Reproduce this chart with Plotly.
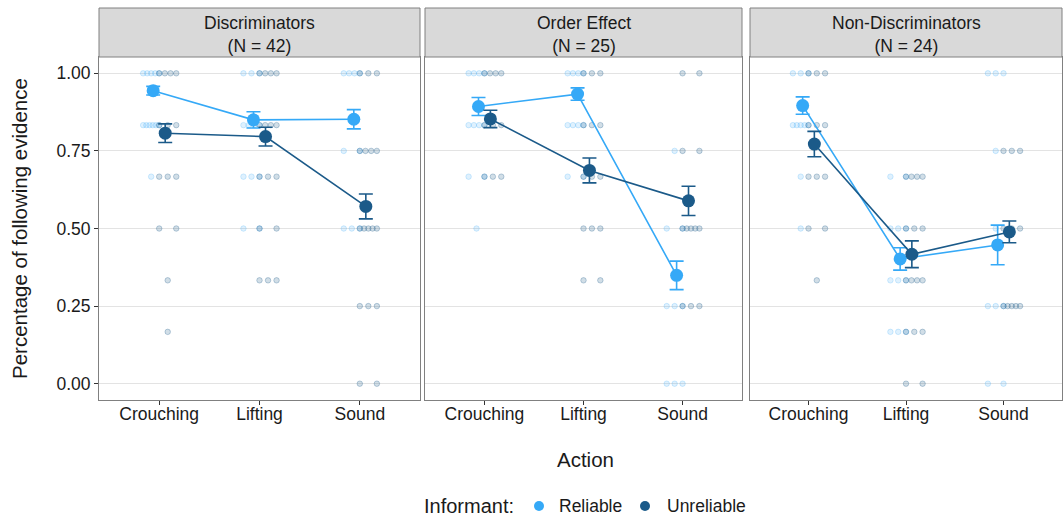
import plotly.graph_objects as go

# Categories and panels
actions = ["Crouching", "Lifting", "Sound"]
panels = ["Discriminators<br>(N = 42)", "Order Effect<br>(N = 25)", "Non-Discriminators<br>(N = 24)"]
y_ticks = [0.0, 0.25, 0.5, 0.75, 1.0]
y_tick_labels = ["0.00", "0.25", "0.50", "0.75", "1.00"]

# Group means and standard errors (Crouching, Lifting, Sound)
disc_reliable_mean = [0.944, 0.850, 0.852]
disc_reliable_se = [0.014, 0.026, 0.031]
disc_unreliable_mean = [0.807, 0.796, 0.571]
disc_unreliable_se = [0.030, 0.030, 0.040]

order_reliable_mean = [0.893, 0.933, 0.349]
order_reliable_se = [0.029, 0.020, 0.046]
order_unreliable_mean = [0.853, 0.687, 0.589]
order_unreliable_se = [0.028, 0.040, 0.047]

nondisc_reliable_mean = [0.896, 0.402, 0.447]
nondisc_reliable_se = [0.028, 0.036, 0.064]
nondisc_unreliable_mean = [0.772, 0.417, 0.489]
nondisc_unreliable_se = [0.041, 0.043, 0.035]

# Individual participant proportions (Crouching, Lifting, Sound)
disc_reliable_raw = [
    [1, 1, 1, 1, 1, 0.833, 0.833, 0.833, 0.833, 0.833, 0.833, 0.667],
    [1, 1, 1, 0.833, 0.833, 0.833, 0.833, 0.667, 0.667, 0.667, 0.5, 0.5],
    [1, 1, 1, 1, 0.75, 0.75, 0.5, 0.5, 0.5],
]
disc_unreliable_raw = [
    [1, 1, 1, 1, 0.833, 0.833, 0.833, 0.667, 0.667, 0.667, 0.5, 0.5, 0.333, 0.167],
    [1, 1, 1, 1, 0.833, 0.833, 0.833, 0.833, 0.667, 0.667, 0.667, 0.5, 0.5, 0.333, 0.333, 0.333],
    [1, 1, 1, 0.75, 0.75, 0.75, 0.75, 0.5, 0.5, 0.5, 0.5, 0.5, 0.25, 0.25, 0.25, 0, 0],
]
order_reliable_raw = [
    [1, 1, 1, 1, 0.833, 0.833, 0.833, 0.833, 0.667, 0.667, 0.5],
    [1, 1, 1, 1, 0.833, 0.833, 0.833, 0.833, 0.667, 0.667],
    [0.75, 0.5, 0.5, 0.25, 0.25, 0.25, 0, 0, 0],
]
order_unreliable_raw = [
    [1, 1, 1, 1, 0.833, 0.833, 0.833, 0.667, 0.667, 0.667],
    [1, 1, 1, 0.833, 0.833, 0.833, 0.667, 0.667, 0.667, 0.5, 0.5, 0.5, 0.333, 0.333],
    [1, 1, 0.75, 0.75, 0.5, 0.5, 0.5, 0.5, 0.5, 0.25, 0.25, 0.25],
]
nondisc_reliable_raw = [
    [1, 1, 1, 0.833, 0.833, 0.833, 0.833, 0.833, 0.667, 0.5],
    [0.667, 0.667, 0.5, 0.5, 0.5, 0.333, 0.333, 0.333, 0.167, 0.167, 0.167],
    [1, 1, 1, 0.75, 0.5, 0.25, 0.25, 0.25, 0, 0],
]
nondisc_unreliable_raw = [
    [1, 1, 1, 0.833, 0.833, 0.833, 0.667, 0.667, 0.667, 0.5, 0.5, 0.333],
    [0.667, 0.667, 0.667, 0.667, 0.5, 0.5, 0.5, 0.333, 0.333, 0.333, 0.333, 0.167, 0.167, 0.167, 0, 0],
    [0.75, 0.75, 0.75, 0.5, 0.5, 0.5, 0.25, 0.25, 0.25, 0.25, 0.25],
]

informants = ["Reliable", "Unreliable"]
colors = {"Reliable": "#35A9F7", "Unreliable": "#1B5A89"}
raw_colors = {"Reliable": "rgba(53,169,247,0.16)", "Unreliable": "rgba(27,90,137,0.20)"}
raw_lines = {"Reliable": "rgba(53,169,247,0.22)", "Unreliable": "rgba(27,90,137,0.28)"}
dodge = {"Reliable": -0.06, "Unreliable": 0.06}
band = {"Reliable": (-0.16, 0.0), "Unreliable": (0.0, 0.17)}

panel_data = [
    (disc_reliable_mean, disc_reliable_se, disc_unreliable_mean, disc_unreliable_se,
     disc_reliable_raw, disc_unreliable_raw),
    (order_reliable_mean, order_reliable_se, order_unreliable_mean, order_unreliable_se,
     order_reliable_raw, order_unreliable_raw),
    (nondisc_reliable_mean, nondisc_reliable_se, nondisc_unreliable_mean, nondisc_unreliable_se,
     nondisc_reliable_raw, nondisc_unreliable_raw),
]

W, H = 1063, 518
FONT = "Liberation Sans, Arial, sans-serif"
TEXT = "#1a1a1a"
panel_px = [(99, 420), (425, 742), (750, 1062)]
plot_top, plot_bottom = 57, 400
strip_top = 8


def px_x(v):
    return v / W


def px_y(v):
    return 1 - v / H


def spread(values, lo, hi):
    """Lay points that share a value side by side across a band."""
    xs, ys = [], []
    groups = {}
    for v in values:
        groups.setdefault(v, 0)
        groups[v] += 1
    for v, n in groups.items():
        for i in range(n):
            frac = 0.5 if n == 1 else i / (n - 1)
            xs.append(lo + frac * (hi - lo))
            ys.append(v)
    return xs, ys


fig = go.Figure()

for p, (rm, rse, um, use, rraw, uraw) in enumerate(panel_data):
    xa = "x" if p == 0 else f"x{p + 1}"
    ya = "y" if p == 0 else f"y{p + 1}"
    means = {"Reliable": (rm, rse, rraw), "Unreliable": (um, use, uraw)}

    # individual points, spread sideways within each informant's band
    for inf in informants:
        raw = means[inf][2]
        xs_all, ys_all = [], []
        for ai, vals in enumerate(raw):
            lo, hi = band[inf]
            xs, ys = spread(vals, ai + 1 + lo, ai + 1 + hi)
            xs_all += xs
            ys_all += ys
        fig.add_trace(go.Scatter(
            x=xs_all, y=ys_all, mode="markers", xaxis=xa, yaxis=ya,
            marker=dict(size=5.5, color=raw_colors[inf],
                        line=dict(color=raw_lines[inf], width=1)),
            showlegend=False, hoverinfo="skip"))

    # means with standard-error bars
    for inf in informants:
        m, se, _ = means[inf]
        xs = [i + 1 + dodge[inf] for i in range(len(actions))]
        fig.add_trace(go.Scatter(
            x=xs, y=m, mode="lines+markers", xaxis=xa, yaxis=ya,
            line=dict(color=colors[inf], width=1.6),
            marker=dict(size=13, color=colors[inf]),
            error_y=dict(type="data", array=se, color=colors[inf],
                         thickness=1.6, width=7),
            showlegend=False, name=inf))

layout = dict(
    width=W, height=H,
    margin=dict(l=0, r=0, t=0, b=0),
    paper_bgcolor="white", plot_bgcolor="white",
    font=dict(family=FONT, size=18, color=TEXT),
    showlegend=False,
)

for p, (x0, x1) in enumerate(panel_px):
    suffix = "" if p == 0 else str(p + 1)
    layout["xaxis" + suffix] = dict(
        domain=[px_x(x0), px_x(x1)], anchor="y" + suffix, automargin=False,
        range=[0.4, 3.6], tickvals=[1, 2, 3], ticktext=actions,
        ticks="outside", ticklen=4, tickcolor="#333333",
        ticklabelstandoff=-6,
        tickfont=dict(size=17.5, color=TEXT),
        showgrid=False, zeroline=False,
        showline=True, linecolor="#808080", linewidth=1, mirror=True)
    layout["yaxis" + suffix] = dict(
        domain=[px_y(plot_bottom), px_y(plot_top)], anchor="x" + suffix, automargin=False,
        range=[-0.0525, 1.0525], tickvals=y_ticks, ticktext=y_tick_labels,
        ticks="outside" if p == 0 else "", ticklen=4, tickcolor="#333333",
        showticklabels=(p == 0),
        tickfont=dict(size=17.5, color=TEXT),
        showgrid=True, gridcolor="#e3e3e3", gridwidth=1.3, zeroline=False,
        showline=True, linecolor="#808080", linewidth=1, mirror=True)

fig.update_layout(**layout)

shapes, annotations = [], []

# facet strips
for p, (x0, x1) in enumerate(panel_px):
    shapes.append(dict(type="rect", xref="paper", yref="paper",
                       x0=px_x(x0), x1=px_x(x1), y0=px_y(plot_top), y1=px_y(strip_top),
                       fillcolor="#d9d9d9", line=dict(color="#808080", width=1), layer="above"))
    annotations.append(dict(text=panels[p], xref="paper", yref="paper",
                            x=px_x((x0 + x1) / 2), y=px_y((strip_top + plot_top) / 2 + 2),
                            xanchor="center", yanchor="middle", showarrow=False,
                            font=dict(size=17.5, color=TEXT)))

# axis titles
annotations.append(dict(text="Action", xref="paper", yref="paper",
                        x=px_x(585), y=px_y(459), xanchor="center", yanchor="middle",
                        showarrow=False, font=dict(size=20.5, color=TEXT)))
annotations.append(dict(text="Percentage of following evidence", xref="paper", yref="paper",
                        x=px_x(19), y=px_y(229), xanchor="center", yanchor="middle",
                        textangle=-90, showarrow=False, font=dict(size=20.5, color=TEXT)))

# legend row at the bottom
legend_y = 506
annotations.append(dict(text="Informant:", xref="paper", yref="paper",
                        x=px_x(422), y=px_y(legend_y), xanchor="left", yanchor="middle",
                        showarrow=False, font=dict(size=20, color=TEXT)))
legend_items = [("Reliable", 539, 557), ("Unreliable", 645, 665)]
for inf, dot_x, text_x in legend_items:
    r = 5
    shapes.append(dict(type="circle", xref="paper", yref="paper",
                       x0=px_x(dot_x - r), x1=px_x(dot_x + r),
                       y0=px_y(legend_y + r), y1=px_y(legend_y - r),
                       fillcolor=colors[inf], line=dict(width=0)))
    annotations.append(dict(text=inf, xref="paper", yref="paper",
                            x=px_x(text_x), y=px_y(legend_y), xanchor="left", yanchor="middle",
                            showarrow=False, font=dict(size=17.5, color=TEXT)))

fig.update_layout(shapes=shapes, annotations=annotations)

fig.write_html("out.html")
